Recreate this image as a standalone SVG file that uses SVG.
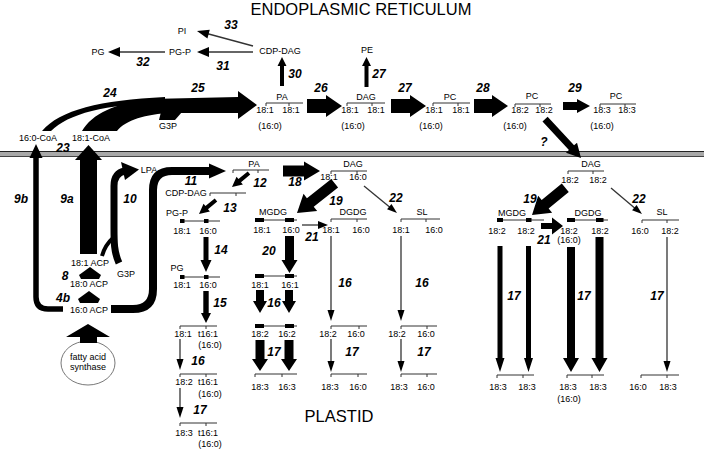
<svg xmlns="http://www.w3.org/2000/svg" width="704" height="451" viewBox="0 0 704 451">
<style>
text{font-family:"Liberation Sans",Arial,Helvetica,sans-serif;fill:#000}
.t{font-size:9px;text-anchor:middle}
.n{font-size:12px;font-weight:bold;font-style:italic;text-anchor:middle}
.h{font-size:16.5px;text-anchor:middle}
.br{stroke:#333;stroke-width:1;fill:none}
.ln{stroke:#333;stroke-width:1.3;fill:none}
.k{fill:#000}
.bl{fill:#000}
</style>
<rect width="704" height="451" fill="#fff"/>
<g id="membrane">
<rect x="0" y="151" width="704" height="6" fill="#a8a8a8"/>
<line x1="0" y1="151.5" x2="704" y2="151.5" stroke="#222" stroke-width="1.2"/>
<line x1="0" y1="156.5" x2="704" y2="156.5" stroke="#444" stroke-width="1"/>
</g>
<g id="titles">
<text class="h" x="361" y="15">ENDOPLASMIC RETICULUM</text>
<text class="h" x="339" y="422">PLASTID</text>
</g>

<g id="er-pi"><text class="t" x="182" y="34.3">PI</text></g>
<g id="er-pgp"><text class="t" x="180" y="55.3">PG-P</text></g>
<g id="er-pg"><text class="t" x="98" y="55.3">PG</text></g>
<g id="er-cdpdag"><text class="t" x="280" y="54.3">CDP-DAG</text></g>
<g id="er-pe"><text class="t" x="367" y="53.3">PE</text></g>
<g id="er-pa">
<text class="t" x="282" y="100.3">PA</text>
<path class="br" d="M266,103H303M266,103v3M289,103v3"/>
<text class="t" x="265" y="113.3">18:1</text><text class="t" x="291" y="113.3">18:1</text>
<text class="t" x="270" y="129.3">(16:0)</text>
</g>
<g id="er-dag">
<text class="t" x="366" y="100.3">DAG</text>
<path class="br" d="M347,103H385M347,103v3M372,103v3"/>
<text class="t" x="350" y="113.3">18:1</text><text class="t" x="376" y="113.3">18:1</text>
<text class="t" x="353" y="129.3">(16:0)</text>
</g>
<g id="er-pc1">
<text class="t" x="450" y="100.3">PC</text>
<path class="br" d="M433,103H470M433,103v3M458,103v3"/>
<text class="t" x="434" y="113.3">18:1</text><text class="t" x="461" y="113.3">18:1</text>
<text class="t" x="431" y="129.3">(16:0)</text>
</g>
<g id="er-pc2">
<text class="t" x="532" y="99.3">PC</text>
<path class="br" d="M515,104H551M515,104v3M540,104v3"/>
<text class="t" x="520" y="113.3">18:2</text><text class="t" x="544" y="113.3">18:2</text>
<text class="t" x="515" y="129.3">(16:0)</text>
</g>
<g id="er-pc3">
<text class="t" x="616" y="99.3">PC</text>
<path class="br" d="M600,104H636M600,104v3M625,104v3"/>
<text class="t" x="602" y="113.3">18:3</text><text class="t" x="627" y="113.3">18:3</text>
<text class="t" x="602" y="129.3">(16:0)</text>
</g>
<g id="er-g3p"><text class="t" x="168" y="129.3">G3P</text></g>
<g id="coa160"><text class="t" x="38" y="141.3">16:0-CoA</text></g>
<g id="coa181"><text class="t" x="91" y="141.3">18:1-CoA</text></g>

<g id="pl-lpa"><text class="t" x="149" y="173.3">LPA</text></g>
<g id="pl-pa">
<text class="t" x="254" y="167.3">PA</text>
<path class="br" d="M233,170H269M233,170v3M258,170v3"/>
</g>
<g id="pl-cdpdag">
<text class="t" x="186" y="196.3">CDP-DAG</text>
<path class="br" d="M210,193H246M210,193v3M236,193v3"/>
</g>
<g id="pl-pgp">
<text class="t" x="177" y="216.3">PG-P</text>
<path class="br" d="M180,221H220"/>
<rect class="bl" x="180" y="219" width="4.5" height="4"/><rect class="bl" x="204" y="219" width="4.5" height="4"/>
<text class="t" x="182" y="234.3">18:1</text><text class="t" x="208" y="234.3">16:0</text>
</g>
<g id="pl-pg">
<text class="t" x="177" y="271.3">PG</text>
<path class="br" d="M180,277H220"/>
<rect class="bl" x="180" y="275" width="4.5" height="4"/><rect class="bl" x="204" y="275" width="4.5" height="4"/>
<text class="t" x="182" y="288.3">18:1</text><text class="t" x="208" y="288.3">16:0</text>
</g>
<g id="pl-pg2">
<path class="br" d="M180,326H217M180,326v3M206,326v3"/>
<text class="t" x="183" y="337.3">18:1</text><text class="t" x="208" y="337.3">t16:1</text>
<text class="t" x="210" y="348.3">(16:0)</text>
</g>
<g id="pl-pg3">
<path class="br" d="M180,374H217M180,374v3M206,374v3"/>
<text class="t" x="184" y="385.3">18:2</text><text class="t" x="208" y="385.3">t16:1</text>
<text class="t" x="210" y="397.3">(16:0)</text>
</g>
<g id="pl-pg4">
<path class="br" d="M180,423H217M180,423v3M206,423v3"/>
<text class="t" x="184" y="436.3">18:3</text><text class="t" x="208" y="436.3">t16:1</text>
<text class="t" x="210" y="447.3">(16:0)</text>
</g>
<g id="acp181"><text class="t" x="90" y="266.3">18:1 ACP</text></g>
<g id="pl-g3p"><text class="t" x="126" y="277.3">G3P</text></g>
<g id="acp180"><text class="t" x="89" y="287.3">18:0 ACP</text></g>
<g id="acp160"><text class="t" x="89" y="313.3">16:0 ACP</text></g>
<g id="fas">
<ellipse cx="88" cy="363" rx="27" ry="22" fill="#fff" stroke="#555" stroke-width="0.8"/>
<text class="t" x="88" y="360">fatty acid</text>
<text class="t" x="88" y="369.5">synthase</text>
</g>

<g id="pl-dag">
<text class="t" x="353" y="167.3">DAG</text>
<path class="br" d="M331,171H367M331,171v3M357,171v3"/>
<text class="t" x="329" y="180.3">18:1</text><text class="t" x="358" y="180.3">16:0</text>
</g>
<g id="pl-mgdg1">
<text class="t" x="273" y="215.3">MGDG</text>
<path class="br" d="M255,220H297"/>
<rect class="bl" x="255" y="218" width="9" height="4"/><rect class="bl" x="285" y="218" width="9" height="4"/>
<text class="t" x="262" y="233.3">18:1</text><text class="t" x="291" y="233.3">16:0</text>
</g>
<g id="pl-mgdg2">
<path class="br" d="M255,276H297"/>
<rect class="bl" x="255" y="274" width="9" height="4"/><rect class="bl" x="285" y="274" width="9" height="4"/>
<text class="t" x="260" y="288.3">18:1</text><text class="t" x="290" y="288.3">16:1</text>
</g>
<g id="pl-mgdg3">
<path class="br" d="M255,326H297"/>
<rect class="bl" x="255" y="324" width="9" height="4"/><rect class="bl" x="285" y="324" width="9" height="4"/>
<text class="t" x="260" y="337.3">18:2</text><text class="t" x="287" y="337.3">16:2</text>
</g>
<g id="pl-mgdg4">
<path class="br" d="M255,374H297M255,374v3M282,374v3"/>
<text class="t" x="260" y="390.3">18:3</text><text class="t" x="287" y="390.3">16:3</text>
</g>
<g id="pl-dgdg1">
<text class="t" x="353" y="215.3">DGDG</text>
<path class="br" d="M331,219H367M331,219v3M357,219v3"/>
<text class="t" x="331" y="233.3">18:1</text><text class="t" x="361" y="233.3">16:0</text>
</g>
<g id="pl-dgdg2">
<path class="br" d="M331,326H367M331,326v3M359,326v3"/>
<text class="t" x="328" y="337.3">18:2</text><text class="t" x="356" y="337.3">16:0</text>
</g>
<g id="pl-dgdg3">
<path class="br" d="M331,374H367M331,374v3M358,374v3"/>
<text class="t" x="330" y="390.3">18:3</text><text class="t" x="358" y="390.3">16:0</text>
</g>
<g id="pl-sl1">
<text class="t" x="422" y="215.3">SL</text>
<path class="br" d="M401,219H440M401,219v3M426,219v3"/>
<text class="t" x="401" y="233.3">18:1</text><text class="t" x="434" y="233.3">16:0</text>
</g>
<g id="pl-sl2">
<path class="br" d="M401,326H437M401,326v3M427,326v3"/>
<text class="t" x="397" y="337.3">18:2</text><text class="t" x="426" y="337.3">16:0</text>
</g>
<g id="pl-sl3">
<path class="br" d="M401,374H437M401,374v3M427,374v3"/>
<text class="t" x="399" y="390.3">18:3</text><text class="t" x="426" y="390.3">16:0</text>
</g>

<g id="pr-dag">
<text class="t" x="591" y="167.3">DAG</text>
<path class="br" d="M568,171H604M568,171v3M593,171v3"/>
<text class="t" x="570" y="183.3">18:2</text><text class="t" x="598" y="183.3">18:2</text>
</g>
<g id="pr-mgdg1">
<text class="t" x="512" y="216.3">MGDG</text>
<path class="br" d="M497,220H544"/>
<rect class="bl" x="497" y="218" width="6" height="4"/><rect class="bl" x="526" y="218" width="5.5" height="4"/>
<text class="t" x="497" y="234.3">18:2</text><text class="t" x="526" y="234.3">18:2</text>
</g>
<g id="pr-dgdg1">
<text class="t" x="588" y="216.3">DGDG</text>
<path class="br" d="M567,220H608"/>
<rect class="bl" x="567" y="218" width="8" height="4"/><rect class="bl" x="596" y="218" width="7.5" height="4"/>
<text class="t" x="569" y="234.3">18:2</text><text class="t" x="600" y="234.3">18:2</text>
<text class="t" x="569" y="243.3">(16:0)</text>
</g>
<g id="pr-sl1">
<text class="t" x="662" y="215.3">SL</text>
<path class="br" d="M642,220H679M642,220v3M667,220v3"/>
<text class="t" x="640" y="234.3">16:0</text><text class="t" x="670" y="234.3">18:2</text>
</g>
<g id="pr-mgdg2">
<path class="br" d="M497,375H534M497,375v3M523,375v3"/>
<text class="t" x="498" y="390.3">18:3</text><text class="t" x="527" y="390.3">18:3</text>
</g>
<g id="pr-dgdg2">
<path class="br" d="M567,375H604M567,375v3M592,375v3"/>
<text class="t" x="568" y="390.3">18:3</text><text class="t" x="598" y="390.3">18:3</text>
<text class="t" x="569" y="402.3">(16:0)</text>
</g>
<g id="pr-sl2">
<path class="br" d="M641,375H679M641,375v3M667,375v3"/>
<text class="t" x="638" y="390.3">16:0</text><text class="t" x="668" y="390.3">18:3</text>
</g>

<g id="connectors">
<line class="ln" x1="253" y1="46" x2="205" y2="33" stroke-width="1.5"/>
<polygon class="k" points="-12,-4.5 0,0 -12,4.5" transform="translate(197,31) rotate(195)"/>
<line class="ln" x1="253" y1="52" x2="205" y2="52" stroke-width="2" stroke="#000"/>
<polygon class="k" points="-12,-5 0,0 -12,5" transform="translate(197,52) rotate(180)"/>
<line class="ln" x1="165" y1="52" x2="115" y2="52" stroke-width="2" stroke="#000"/>
<polygon class="k" points="-12,-5 0,0 -12,5" transform="translate(108,52) rotate(180)"/>
<polygon class="k" points="-29,-2 -9,-2 -9,-4.5 0,0 -9,4.5 -9,2 -29,2" transform="translate(282,57) rotate(-90)"/>
<polygon class="k" points="-30,-2 -9,-2 -9,-4.5 0,0 -9,4.5 -9,2 -30,2" transform="translate(366.5,57) rotate(-90)"/>
<polygon class="k" points="-35,-7 -16,-7 -16,-11 0,0 -16,11 -16,7 -35,7" transform="translate(342,106)"/>
<polygon class="k" points="-35,-7 -16,-7 -16,-11 0,0 -16,11 -16,7 -35,7" transform="translate(426,106)"/>
<polygon class="k" points="-34,-7 -16,-7 -16,-11 0,0 -16,11 -16,7 -34,7" transform="translate(508,106)"/>
<polygon class="k" points="-27,-4 -13,-4 -13,-7 0,0 -13,7 -13,4 -27,4" transform="translate(590,106)"/>
<polygon class="k" points="-53,-3.5 -14,-3.5 -14,-7.5 0,0 -14,7.5 -14,3.5 -53,3.5" transform="translate(581,158) rotate(47.3)"/>
<path class="k" d="M42,131 C60,110 100,100 165,97 L165,103 C105,104 68,114 51,131 Z"/>
<path class="k" d="M82,131 C92,114 115,103 150,99 L238,97 L238,91 L257,105 L238,119 L238,113 L172,113 C145,114 126,120 117,131 Z"/>
<polygon class="k" points="159,120 175,120 182,112 161,112"/>
<path d="M63,309 L48,309 Q36,309 36,297 L36,157" fill="none" stroke="#000" stroke-width="5.5"/>
<polygon class="k" points="36,144 29.5,158 42.5,158"/>
<rect class="k" x="80" y="159" width="17" height="95"/>
<polygon class="k" points="88.5,145 75,160 102,160"/>
<path d="M111,309 L133,309 Q153,309 153,289 L153,190 Q153,171 172,171 L211,171" fill="none" stroke="#000" stroke-width="8"/>
<polygon class="k" points="209,163.5 226,171 209,178.5"/>
<path d="M119,263 C114,252 114,242 114,228 L114,186 Q114,173 125,171" fill="none" stroke="#000" stroke-width="7"/>
<path d="M102,256 Q105,245 113,238" fill="none" stroke="#000" stroke-width="4"/>
<polygon class="k" points="121,162 139,169.5 125,180"/>
<polygon class="k" points="90,267 101,275 99,279 81,279 79,275"/>
<polygon class="k" points="89,291 100,299 98,303 80,303 78,299"/>
<polygon class="k" points="88,324 110,337 97,337 97,343 80,343 80,337 66,337"/>
<polygon class="k" points="-22,-2 -10,-2 -10,-5 0,0 -10,5 -10,2 -22,2" transform="translate(232,187) rotate(140.5)"/>
<polygon class="k" points="-22,-2 -10,-2 -10,-5 0,0 -10,5 -10,2 -22,2" transform="translate(199,214) rotate(140.5)"/>
<polygon class="k" points="-35,-2.5 -12,-2.5 -12,-5.5 0,0 -12,5.5 -12,2.5 -35,2.5" transform="translate(206,272) rotate(90)"/>
<polygon class="k" points="-32,-2.7 -10,-2.7 -10,-5 0,0 -10,5 -10,2.7 -32,2.7" transform="translate(206,323) rotate(90)"/>
<line class="ln" x1="180" y1="339" x2="180" y2="362"/>
<polygon class="k" points="-11,-3.5 0,0 -11,3.5" transform="translate(180,370) rotate(90)"/>
<line class="ln" x1="180" y1="388" x2="180" y2="410"/>
<polygon class="k" points="-11,-3.5 0,0 -11,3.5" transform="translate(180,418) rotate(90)"/>
<polygon class="k" points="-37,-5.5 -16,-5.5 -16,-9.5 0,0 -16,9.5 -16,5.5 -37,5.5" transform="translate(320,171)"/>
<polygon class="k" points="-48,-5.5 -17,-5.5 -17,-11 0,0 -17,11 -17,5.5 -48,5.5" transform="translate(297,213) rotate(141.7)"/>
<line class="ln" x1="364" y1="186" x2="392" y2="209"/>
<polygon class="k" points="-10,-3.5 0,0 -10,3.5" transform="translate(397,213) rotate(39.3)"/>
<line class="ln" x1="302" y1="225" x2="320" y2="225" stroke-width="1.5"/>
<polygon class="k" points="-10,-4 0,0 -10,4" transform="translate(328,225)"/>
<polygon class="k" points="-37,-4.5 -13,-4.5 -13,-8 0,0 -13,8 -13,4.5 -37,4.5" transform="translate(289.5,273) rotate(90)"/>
<polygon class="k" points="-23,-4 -12,-4 -12,-7 0,0 -12,7 -12,4 -23,4" transform="translate(260,313) rotate(90)"/>
<polygon class="k" points="-23,-4 -12,-4 -12,-7 0,0 -12,7 -12,4 -23,4" transform="translate(289,313) rotate(90)"/>
<polygon class="k" points="-31,-4.5 -12,-4.5 -12,-8 0,0 -12,8 -12,4.5 -31,4.5" transform="translate(260,371) rotate(90)"/>
<polygon class="k" points="-31,-4.5 -12,-4.5 -12,-8 0,0 -12,8 -12,4.5 -31,4.5" transform="translate(289,371) rotate(90)"/>
<line class="ln" x1="331" y1="236" x2="331" y2="313"/>
<polygon class="k" points="-11,-3.5 0,0 -11,3.5" transform="translate(331,321) rotate(90)"/>
<line class="ln" x1="331" y1="339" x2="331" y2="364"/>
<polygon class="k" points="-11,-3.5 0,0 -11,3.5" transform="translate(331,372) rotate(90)"/>
<line class="ln" x1="401" y1="236" x2="401" y2="313"/>
<polygon class="k" points="-11,-3.5 0,0 -11,3.5" transform="translate(401,321) rotate(90)"/>
<line class="ln" x1="401" y1="339" x2="401" y2="364"/>
<polygon class="k" points="-11,-3.5 0,0 -11,3.5" transform="translate(401,372) rotate(90)"/>
<polygon class="k" points="-43,-5.5 -17,-5.5 -17,-11 0,0 -17,11 -17,5.5 -43,5.5" transform="translate(532,215) rotate(140.7)"/>
<line class="ln" x1="611" y1="188" x2="637" y2="210"/>
<polygon class="k" points="-10,-3.5 0,0 -10,3.5" transform="translate(642,214) rotate(40)"/>
<polygon class="k" points="-22,-3 -11,-3 -11,-8.5 0,0 -11,8.5 -11,3 -22,3" transform="translate(563,226)"/>
<polygon class="k" points="-126,-2.5 -14,-2.5 -14,-4.5 0,0 -14,4.5 -14,2.5 -126,2.5" transform="translate(500,372) rotate(90)"/>
<polygon class="k" points="-126,-2.5 -14,-2.5 -14,-4.5 0,0 -14,4.5 -14,2.5 -126,2.5" transform="translate(528.5,372) rotate(90)"/>
<polygon class="k" points="-125,-4 -14,-4 -14,-8 0,0 -14,8 -14,4 -125,4" transform="translate(571,372) rotate(90)"/>
<polygon class="k" points="-135,-4 -14,-4 -14,-8 0,0 -14,8 -14,4 -135,4" transform="translate(599.5,372) rotate(90)"/>
<line class="ln" x1="667" y1="237" x2="667" y2="364"/>
<polygon class="k" points="-11,-3.5 0,0 -11,3.5" transform="translate(667,372) rotate(90)"/>
</g>

<g id="step-labels">
<text class="n" x="231" y="29.3">33</text>
<text class="n" x="143" y="66.3">32</text>
<text class="n" x="223" y="70.3">31</text>
<text class="n" x="110" y="97.3">24</text>
<text class="n" x="198" y="92.3">25</text>
<text class="n" x="63" y="152.3">23</text>
<text class="n" x="295" y="78.3">30</text>
<text class="n" x="321" y="92.3">26</text>
<text class="n" x="379" y="78.3">27</text>
<text class="n" x="405" y="92.3">27</text>
<text class="n" x="483" y="92.3">28</text>
<text class="n" x="575" y="92.3">29</text>
<text class="n" x="544" y="146.3">?</text>
<text class="n" x="21" y="203.3">9b</text>
<text class="n" x="67" y="203.3">9a</text>
<text class="n" x="130" y="203.3">10</text>
<text class="n" x="191" y="185">11</text>
<text class="n" x="260" y="187.3">12</text>
<text class="n" x="230" y="212.3">13</text>
<text class="n" x="295" y="186.3">18</text>
<text class="n" x="336" y="205.3">19</text>
<text class="n" x="396" y="202.3">22</text>
<text class="n" x="312" y="241.3">21</text>
<text class="n" x="269" y="255.3">20</text>
<text class="n" x="221" y="254.3">14</text>
<text class="n" x="220" y="307.3">15</text>
<text class="n" x="274" y="307.3">16</text>
<text class="n" x="345" y="287.3">16</text>
<text class="n" x="422" y="287.3">16</text>
<text class="n" x="65" y="280.3">8</text>
<text class="n" x="63" y="302.3">4b</text>
<text class="n" x="198" y="365.3">16</text>
<text class="n" x="200" y="414.3">17</text>
<text class="n" x="274" y="356.3">17</text>
<text class="n" x="352" y="356.3">17</text>
<text class="n" x="424" y="356.3">17</text>
<text class="n" x="530" y="203.3">19</text>
<text class="n" x="639" y="203.3">22</text>
<text class="n" x="544" y="244.3">21</text>
<text class="n" x="514" y="300.3">17</text>
<text class="n" x="584" y="300.3">17</text>
<text class="n" x="657" y="300.3">17</text>
</g>
</svg>
